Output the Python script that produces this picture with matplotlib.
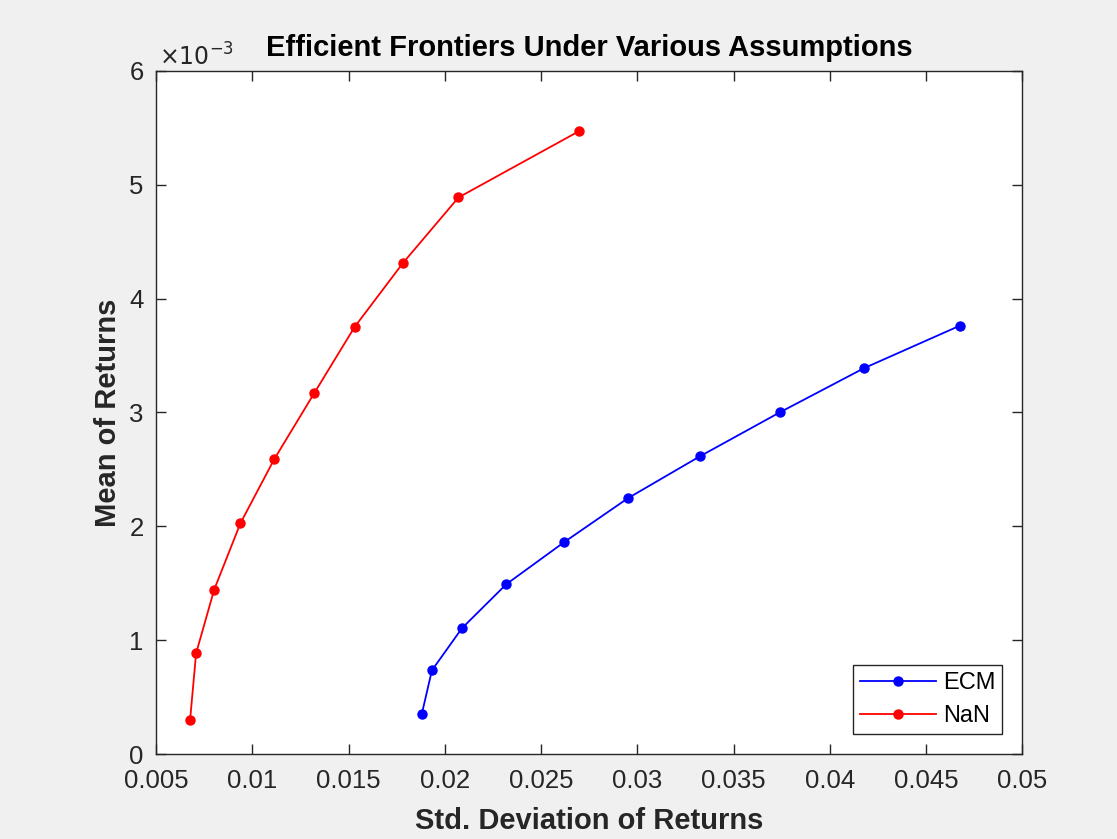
import matplotlib
matplotlib.use('Agg')
import matplotlib.pyplot as plt
from matplotlib.ticker import FuncFormatter

# Frontier points (std dev, mean)
ecm_std = [0.01880, 0.01933, 0.02089, 0.02319, 0.02619, 0.02951, 0.03326, 0.03742, 0.04177, 0.04677]
ecm_mean = [0.349e-3, 0.735e-3, 1.105e-3, 1.491e-3, 1.860e-3, 2.247e-3, 2.616e-3, 3.003e-3, 3.389e-3, 3.764e-3]

nan_std = [0.00677, 0.00708, 0.00802, 0.00938, 0.01114, 0.01321, 0.01531, 0.01781, 0.02071, 0.02696]
nan_mean = [0.302e-3, 0.884e-3, 1.444e-3, 2.026e-3, 2.590e-3, 3.168e-3, 3.750e-3, 4.310e-3, 4.889e-3, 5.470e-3]

x_ticks = [0.005, 0.01, 0.015, 0.02, 0.025, 0.03, 0.035, 0.04, 0.045, 0.05]
y_ticks = [0, 1e-3, 2e-3, 3e-3, 4e-3, 5e-3, 6e-3]

plt.rcParams['font.family'] = ['Liberation Sans', 'DejaVu Sans']
txt = '#262626'

fig = plt.figure(figsize=(11.17, 8.39), dpi=100, facecolor='#f0f0f0')
ax = fig.add_axes([0.1397, 0.1013, 0.7756, 0.8141])

ax.plot(ecm_std, ecm_mean, '-', color='blue', marker='o', markersize=6.5, linewidth=1.3, label='ECM')
ax.plot(nan_std, nan_mean, '-', color='red', marker='o', markersize=6.5, linewidth=1.3, label='NaN')

ax.set_xlim(0.005, 0.05)
ax.set_ylim(0, 6e-3)
ax.set_xticks(x_ticks)
ax.set_yticks(y_ticks)
ax.xaxis.set_major_formatter(FuncFormatter(lambda v, p: '%g' % round(v, 4)))
ax.yaxis.set_major_formatter(FuncFormatter(lambda v, p: '%g' % round(v * 1e3, 3)))
ax.tick_params(direction='in', top=True, right=True, length=7, width=1,
               labelsize=18.5, colors=txt)
ax.tick_params(axis='x', pad=11)
ax.tick_params(axis='y', pad=9)
for s in ax.spines.values():
    s.set_color(txt)
    s.set_linewidth(1)

# MATLAB-style exponent above the y axis
ax.text(0.003, 1.0, r'$\times10^{-3}$', transform=ax.transAxes, fontsize=17,
        color=txt, ha='left', va='bottom')

ax.set_title('Efficient Frontiers Under Various Assumptions', fontsize=21,
             fontweight='bold', color='black', pad=11)
ax.set_xlabel('Std. Deviation of Returns', fontsize=21, fontweight='bold', color=txt, labelpad=10)
ax.set_ylabel('Mean of Returns', fontsize=21, fontweight='bold', color=txt, labelpad=5)

leg = ax.legend(loc='lower right', fontsize=17, fancybox=False, framealpha=1,
                edgecolor=txt, borderaxespad=0.85, handlelength=3.2, handletextpad=0.3,
                borderpad=0.3, labelspacing=0.45)
leg.get_frame().set_linewidth(1)

fig.savefig('out.png', dpi=100, facecolor=fig.get_facecolor())
